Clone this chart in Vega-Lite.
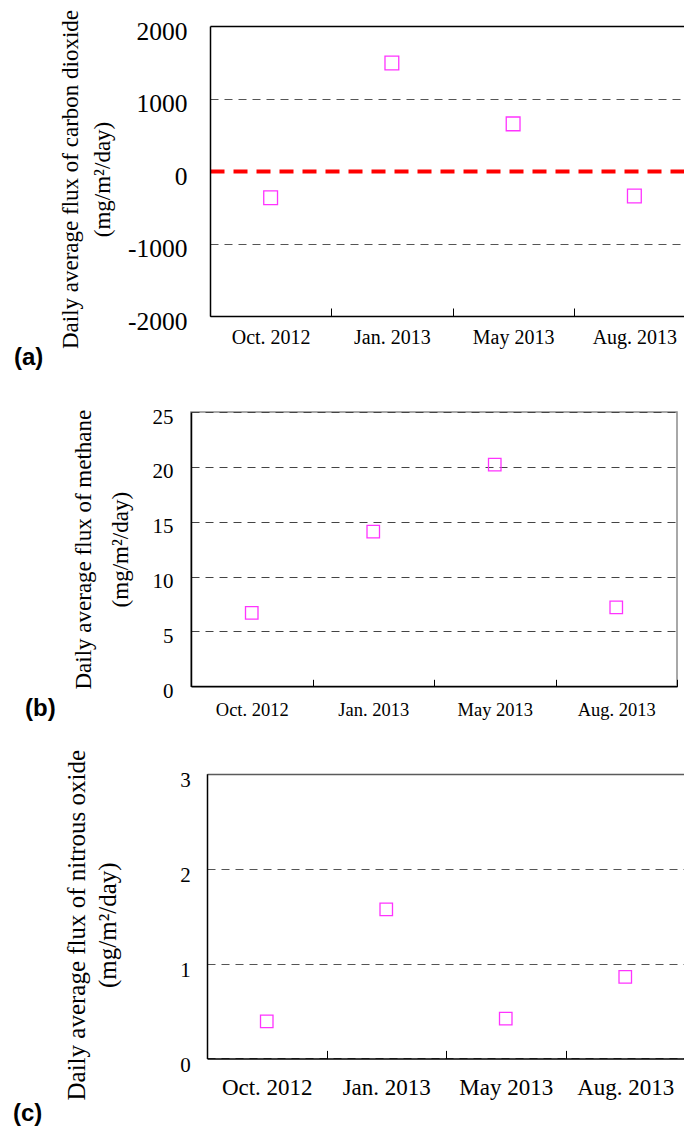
{
  "$schema": "https://vega.github.io/schema/vega-lite/v6.json",
  "background": "white",
  "padding": {"left": 13, "top": 9, "right": -11, "bottom": 4},
  "bounds": "flush",
  "spacing": 96,
  "config": {
    "font": "Liberation Serif",
    "view": {"stroke": null},
    "axis": {
      "labelFont": "Liberation Serif",
      "titleFont": "Liberation Serif",
      "labelColor": "black",
      "titleColor": "black",
      "titleFontWeight": "normal",
      "domainColor": "black",
      "domainWidth": 1.5,
      "tickColor": "black",
      "labelAngle": 0
    },
    "title": {
      "font": "Liberation Sans",
      "fontWeight": "bold",
      "fontSize": 24,
      "color": "black",
      "orient": "bottom",
      "anchor": "start",
      "frame": "group",
      "baseline": "top"
    }
  },
  "datasets": {
    "co2": [
      {"month": "Oct. 2012", "flux": -370},
      {"month": "Jan. 2013", "flux": 1490},
      {"month": "May 2013", "flux": 650},
      {"month": "Aug. 2013", "flux": -345}
    ],
    "ch4": [
      {"month": "Oct. 2012", "flux": 6.7},
      {"month": "Jan. 2013", "flux": 14.1},
      {"month": "May 2013", "flux": 20.2},
      {"month": "Aug. 2013", "flux": 7.2}
    ],
    "n2o": [
      {"month": "Oct. 2012", "flux": 0.39},
      {"month": "Jan. 2013", "flux": 1.57},
      {"month": "May 2013", "flux": 0.42},
      {"month": "Aug. 2013", "flux": 0.86}
    ]
  },
  "vconcat": [
    {
      "width": 493,
      "height": 290,
      "data": {"name": "co2"},
      "title": {"text": "(a)", "dx": -177, "offset": -3},
      "mark": {"type": "point", "shape": "square", "filled": false, "color": "#ff33ff", "size": 190, "strokeWidth": 1.3, "opacity": 1},
      "encoding": {
        "x": {
          "field": "month", "type": "nominal", "sort": null,
          "scale": {"type": "band", "range": [19, 504], "paddingInner": 0, "paddingOuter": 0},
          "axis": {"title": null, "labelFontSize": 20, "tickBand": "extent", "tickSize": -8, "labelPadding": 19, "grid": false}
        },
        "y": {
          "field": "flux", "type": "quantitative",
          "scale": {"domain": [-2000, 2000], "nice": false, "zero": false},
          "axis": {
            "title": ["Daily average flux of carbon dioxide", "(mg/m²/day)"],
            "titleFontSize": 23,
            "titleLineHeight": 32,
            "titlePadding": 13,
            "titleY": 153,
            "labelFontSize": 25.5,
            "labelPadding": 23,
            "labelOffset": 5,
            "labelExpr": "datum.value + ''",
            "ticks": false,
            "offset": -19,
            "values": [-2000, -1000, 0, 1000, 2000],
            "grid": true,
            "gridColor": {"condition": [{"test": "datum.value === 2000", "value": "black"}, {"test": "datum.value === 0", "value": "#ff0000"}], "value": "#555555"},
            "gridDash": {"condition": [{"test": "datum.value === 2000", "value": []}, {"test": "datum.value === 0", "value": [14, 9]}], "value": [8, 6]},
            "gridWidth": {"condition": [{"test": "datum.value === 2000", "value": 1.5}, {"test": "datum.value === 0", "value": 4}], "value": 1.2}
          }
        }
      }
    },
    {
      "width": 486,
      "height": 274.3,
      "view": {"stroke": "#8c8c8c", "strokeWidth": 1.5},
      "data": {"name": "ch4"},
      "title": {"text": "(b)", "dx": -166, "offset": -22},
      "mark": {"type": "point", "shape": "square", "filled": false, "color": "#ff33ff", "size": 156, "strokeWidth": 1.3, "opacity": 1},
      "encoding": {
        "x": {
          "field": "month", "type": "nominal", "sort": null,
          "scale": {"type": "band", "paddingInner": 0, "paddingOuter": 0},
          "axis": {"title": null, "labelFontSize": 18.5, "tickBand": "extent", "tickSize": -7, "labelPadding": 21, "grid": false}
        },
        "y": {
          "field": "flux", "type": "quantitative",
          "scale": {"domain": [0, 25], "nice": false},
          "axis": {
            "title": ["Daily average flux of methane", "(mg/m²/day)"],
            "titleFontSize": 23,
            "titleLineHeight": 37,
            "titlePadding": 20,
            "labelFontSize": 21,
            "labelPadding": 18,
            "labelOffset": 5,
            "ticks": false,
            "values": [0, 5, 10, 15, 20, 25],
            "grid": true,
            "gridColor": "#444444",
            "gridDash": [8, 6],
            "gridWidth": 1.2
          }
        }
      }
    },
    {
      "width": 493,
      "height": 275.4,
      "data": {"name": "n2o"},
      "title": {"text": "(c)", "dx": -178, "offset": 2},
      "mark": {"type": "point", "shape": "square", "filled": false, "color": "#ff33ff", "size": 156, "strokeWidth": 1.3, "opacity": 1},
      "encoding": {
        "x": {
          "field": "month", "type": "nominal", "sort": null,
          "scale": {"type": "band", "range": [16, 494], "paddingInner": 0, "paddingOuter": 0},
          "axis": {"title": null, "labelFontSize": 23, "tickBand": "extent", "tickSize": -8, "labelPadding": 26, "grid": false}
        },
        "y": {
          "field": "flux", "type": "quantitative",
          "scale": {"domain": [0, 3], "nice": false, "range": [275.4, -9.3]},
          "axis": {
            "title": ["Daily average flux of nitrous oxide", "(mg/m²/day)"],
            "titleFontSize": 25,
            "titleLineHeight": 31.5,
            "titlePadding": 59,
            "titleY": 141.7,
            "labelFontSize": 21,
            "labelPadding": 16.7,
            "labelOffset": 7,
            "ticks": false,
            "offset": -16,
            "values": [0, 1, 2, 3],
            "grid": true,
            "gridColor": {"condition": {"test": "datum.value === 3", "value": "#5a5a5a"}, "value": "#555555"},
            "gridDash": {"condition": {"test": "datum.value === 3", "value": []}, "value": [8, 6]},
            "gridWidth": {"condition": {"test": "datum.value === 3", "value": 1.5}, "value": 1.2}
          }
        }
      }
    }
  ]
}
